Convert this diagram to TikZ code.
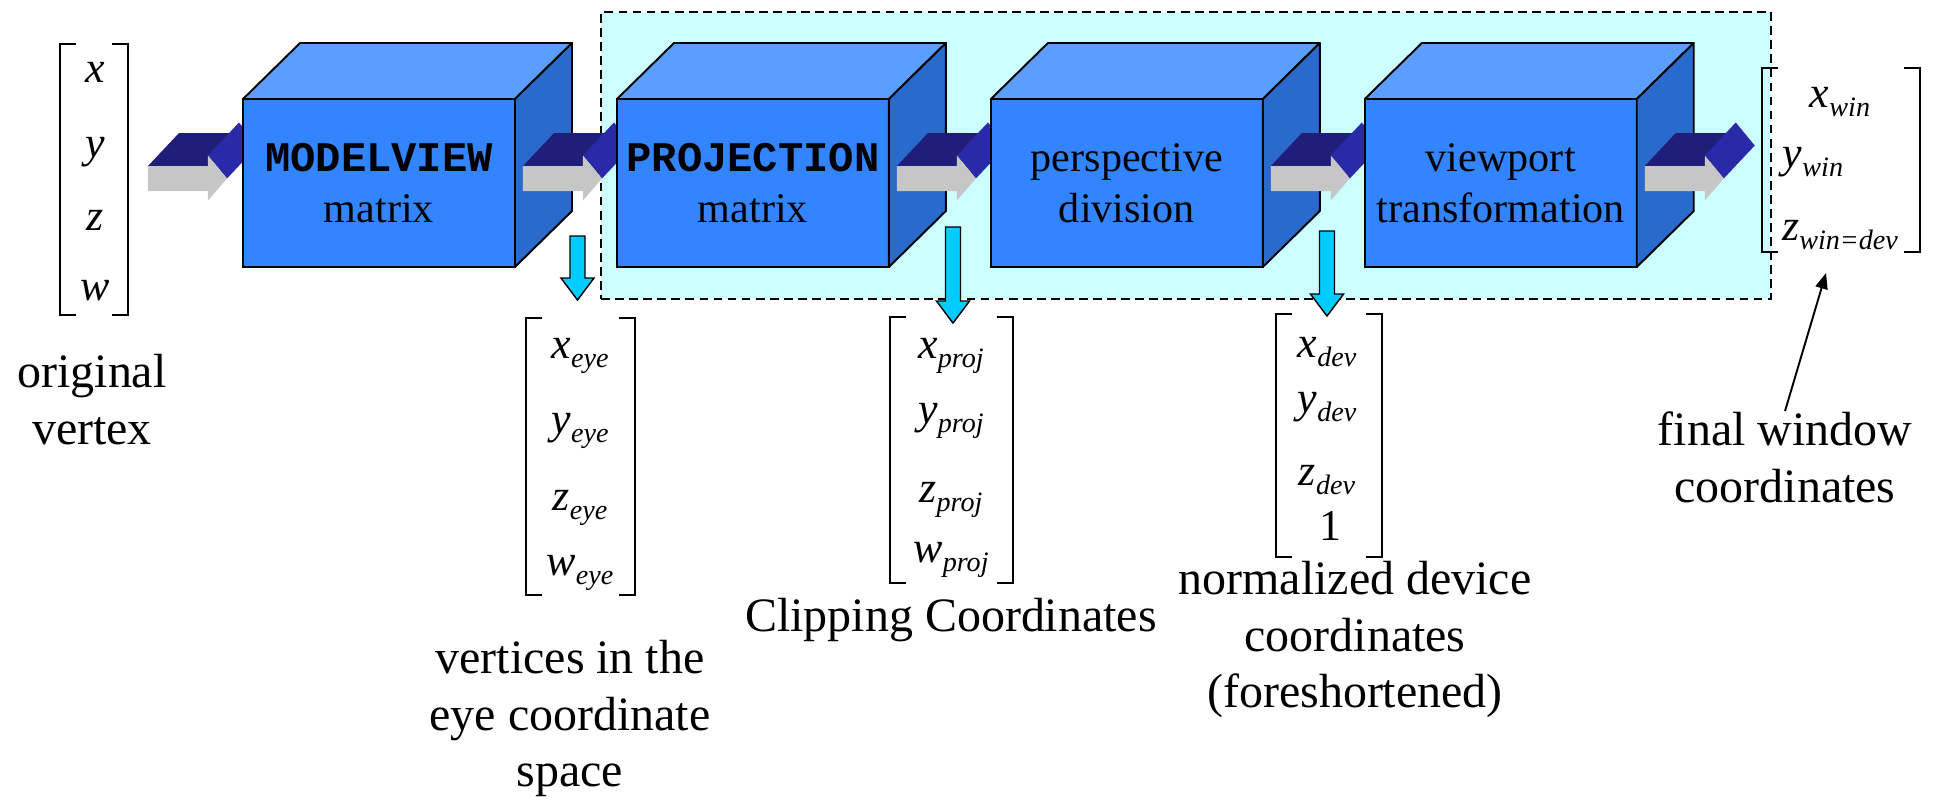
\documentclass[tikz,border=0pt]{standalone}
\usepackage{fontspec}
\setmainfont{Liberation Serif}
\setmonofont{Liberation Mono}
\usepackage{tikz}
\usetikzlibrary{arrows.meta, positioning, calc}

\definecolor{cubefront}{HTML}{3385FF}
\definecolor{cubetop}{HTML}{5C9EFF}
\definecolor{cubeside}{HTML}{2B6ACD}
\definecolor{stagebg}{HTML}{CCFFFF}
\definecolor{dropcyan}{HTML}{00CCFF}
\definecolor{flowtop}{HTML}{1F1F7A}
\definecolor{flowhead}{HTML}{2A2AA8}
\definecolor{flowgray}{HTML}{C6C6C6}

\newcommand{\vcomp}[2]{\textit{#1}\raisebox{-5.5pt}{\fontsize{16}{16}\selectfont\textit{#2}}}
\newcommand{\cubefaces}[1]{%
  \filldraw[cubeedge, fill=cubetop] (#1.north west) -- ++(57,-56) -- ($(#1.north east)+(57,-56)$) -- (#1.north east) -- cycle;
  \filldraw[cubeedge, fill=cubeside] (#1.north east) -- ++(57,-56) -- ($(#1.south east)+(57,-56)$) -- (#1.south east) -- cycle;
}

\tikzset{
  cube/.style={draw, line width=1.1pt, fill=cubefront, minimum width=5.44cm, minimum height=3.36cm,
    inner sep=0pt, outer sep=0pt, align=center, font=\fontsize{24}{29}\selectfont},
  cubeedge/.style={draw=black, line width=1.1pt, line join=round},
  stage/.style={draw, dash pattern=on 5pt off 3pt, fill=stagebg, line width=0.8pt,
    minimum width=23.4cm, minimum height=5.74cm, inner sep=0pt},
  vecbox/.style={inner sep=0pt, outer sep=0pt},
  bracket/.style={line width=1.1pt},
  entry/.style={anchor=base, inner sep=0pt, font=\fontsize{25}{25}\selectfont},
  note/.style={align=center, inner sep=0pt, font=\fontsize{27.3}{32.4}\selectfont},
  pointer/.style={-{Triangle[length=9pt,width=7pt]}, line width=1.1pt},
  pics/flowarrow/.style={code={
    \fill[flowtop] (-79,-12.5) -- (-48,-45.5) -- (12,-45.5) -- (-19,-12.5) -- cycle;
    \fill[flowhead] (-19,-23) -- (12,-56) -- (31,-33) -- (0,0) -- cycle;
    \fill[flowgray] (-79,-12.5) -- (-19,-12.5) -- (-19,-23) -- (0,0) -- (-19,22) -- (-19,12.5) -- (-79,12.5) -- cycle;
  }},
  pics/droparrow/.style={code={
    \filldraw[draw=black, line width=0.8pt, fill=dropcyan]
      (0,0) -- (-16.5,-22) -- (-7.5,-22) -- (-7.5,-#1) -- (7.5,-#1) -- (7.5,-22) -- (16.5,-22) -- cycle;
  }},
}

\begin{document}
\begin{tikzpicture}[x=0.02cm, y=-0.02cm, node distance=2.04cm]
    \useasboundingbox (0,0) rectangle (1934,799);

    % clipping / division / viewport region
    \node[stage] (pipe) at (1186,155.5) {};

    % vectors
    \node[vecbox, minimum width=1.36cm, minimum height=5.42cm] (vorig) at (94,179.5) {};
    \node[vecbox, minimum width=2.18cm, minimum height=5.54cm] (veye) at (580.5,456.5) {};
    \node[vecbox, minimum width=2.46cm, minimum height=5.32cm] (vproj) at (951.5,450) {};
    \node[vecbox, minimum width=2.12cm, minimum height=4.86cm] (vdev) at (1329,435.5) {};
    \node[vecbox, minimum width=3.16cm, minimum height=3.68cm] (vwin) at (1841,160) {};
    \foreach \v in {vorig, veye, vproj, vdev, vwin}
        \draw[bracket] ($(\v.north west)+(16,0)$) -| (\v.south west) -- ++(16,0)
                       ($(\v.north east)+(-16,0)$) -| (\v.south east) -- ++(-16,0);

    \foreach \t/\y [count=\i] in {x/82, y/157, z/230, w/300}
        \node[entry] (o\i) at (95,\y) {\textit{\t}};
    \foreach \t/\y [count=\i] in {x/358, y/433, z/510, w/575}
        \node[entry] (e\i) at (580,\y) {\vcomp{\t}{eye}};
    \foreach \t/\y [count=\i] in {x/358, y/423, z/502, w/562}
        \node[entry] (p\i) at (951,\y) {\vcomp{\t}{proj}};
    \foreach \t/\y [count=\i] in {x/357, y/412, z/485}
        \node[entry] (d\i) at (1327,\y) {\vcomp{\t}{dev}};
    \node[entry] (d4) at (1330,540) {1};
    \node[entry] (w1) at (1840,107) {\vcomp{x}{win}};
    \node[entry] (w2) at (1813,167) {\vcomp{y}{win}};
    \node[entry] (w3) at (1840,240) {\vcomp{z}{win=dev}};

    % pipeline
    \pic at ($(vorig.east)+(99,-1)$) {flowarrow};
    \node[cube] (mv) at (379,183) {\textbf{\texttt{MODELVIEW}}\\matrix};
    \cubefaces{mv}
    \pic at ($(mv.east)+(87,-4.5)$) {flowarrow};
    \node[cube, right=of mv] (proj) {\textbf{\texttt{PROJECTION}}\\matrix};
    \cubefaces{proj}
    \pic at ($(proj.east)+(87,-4.5)$) {flowarrow};
    \node[cube, right=of proj] (persp) {perspective\\division};
    \cubefaces{persp}
    \pic at ($(persp.east)+(87,-4.5)$) {flowarrow};
    \node[cube, right=of persp] (vport) {viewport\\transformation};
    \cubefaces{vport}
    \pic at ($(vport.east)+(87,-4.5)$) {flowarrow};

    \pic at ($(veye.north)+(-3,-18)$) {droparrow=64};
    \pic at ($(vproj.north)+(1.5,6)$) {droparrow=96};
    \pic at ($(vdev.north)+(-2,2)$) {droparrow=85};

    % labels
    \node[note] (origtxt) at (92,400) {original\\vertex};
    \node[note] (eyetxt) at (570,718.5) {vertices in the\\eye coordinate\\space};
    \node[note] (cliptxt) at (951,620.5) {Clipping Coordinates};
    \node[note] (devtxt) at (1355,639.5) {normalized device\\coordinates\\(foreshortened)};
    \node[note] (fwtxt) at (1785,457) {final window\\coordinates};
    \draw[pointer] (fwtxt.north) -- ($(vwin.south)+(-15,21)$);
\end{tikzpicture}
\end{document}
